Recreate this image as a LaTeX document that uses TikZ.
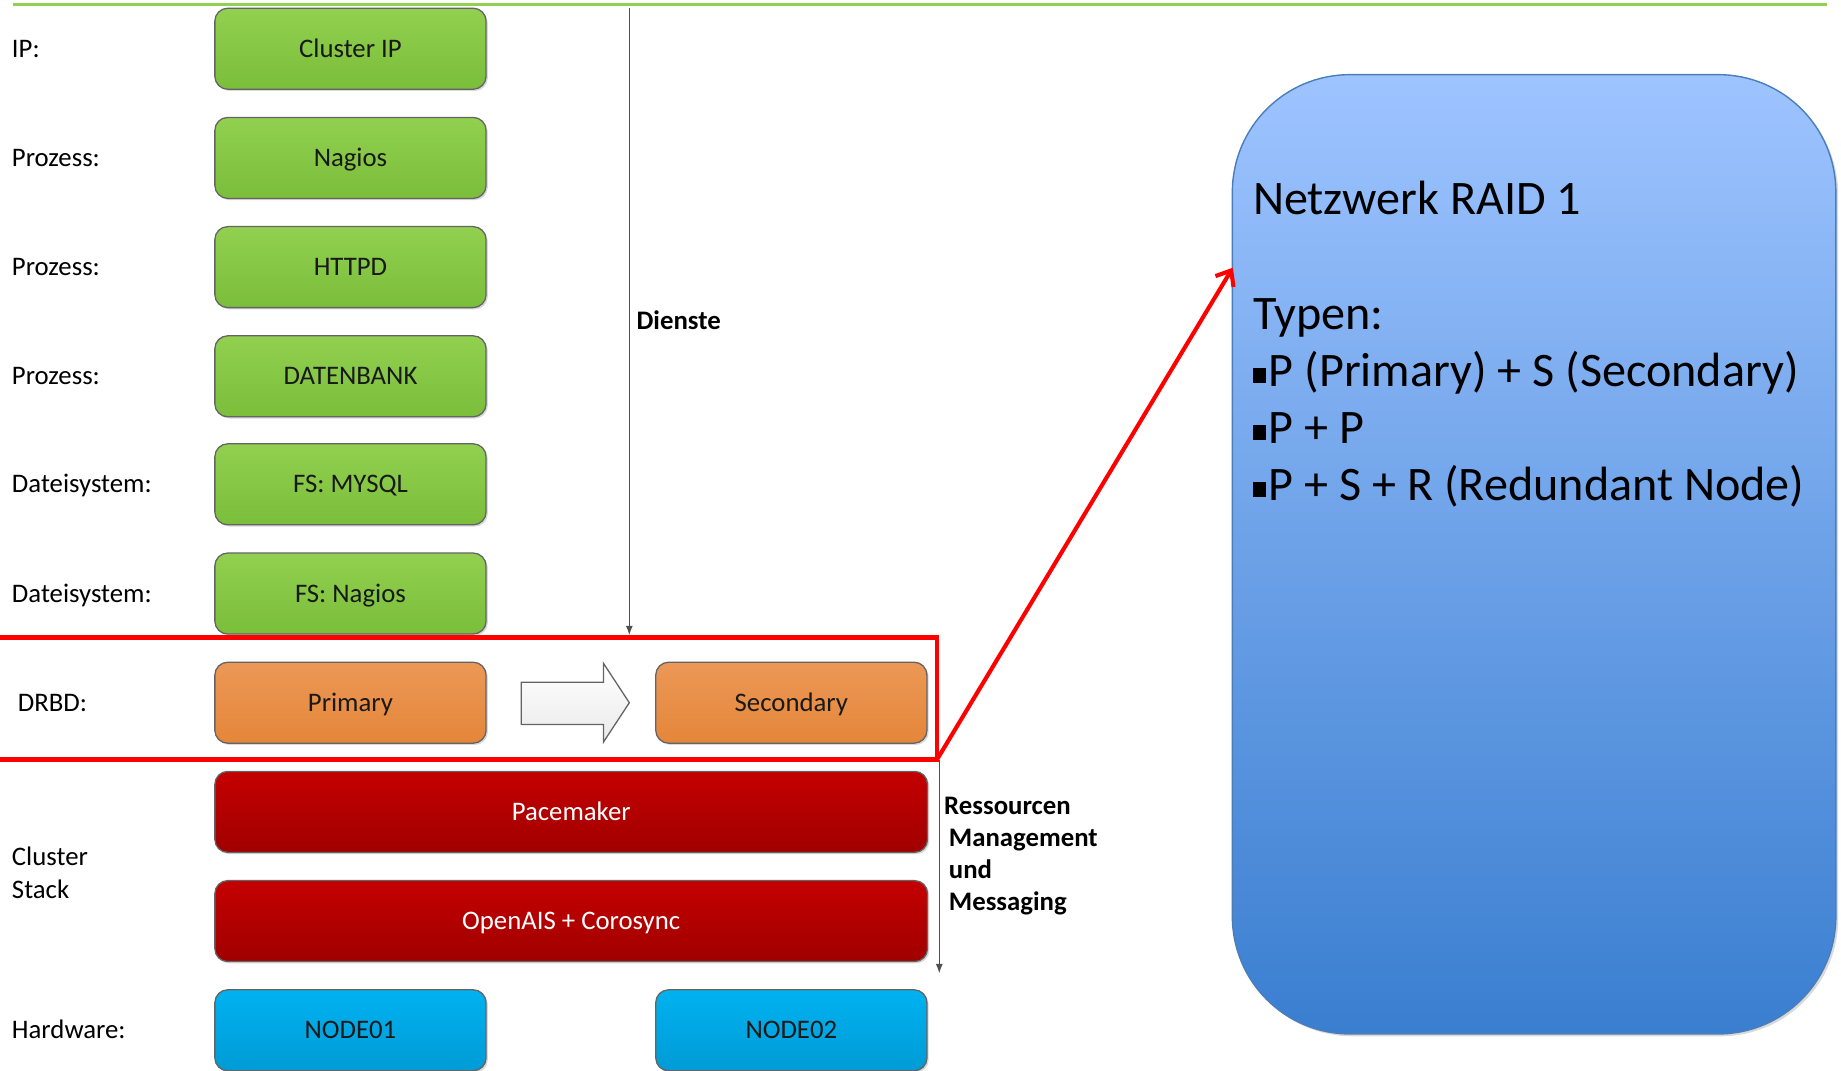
\documentclass[tikz,border=0pt]{standalone}
\usepackage{fontspec}
\setmainfont{Carlito}
\usetikzlibrary{arrows.meta,shadows}
\definecolor{gtop}{RGB}{146,208,80}
\definecolor{gbot}{RGB}{122,190,58}
\definecolor{otop}{RGB}{236,152,86}
\definecolor{obot}{RGB}{228,134,58}
\definecolor{rtop}{RGB}{196,0,0}
\definecolor{rbot}{RGB}{160,0,0}
\definecolor{btop}{RGB}{0,178,240}
\definecolor{bbot}{RGB}{0,155,214}
\definecolor{raidtop}{RGB}{158,196,255}
\definecolor{raidbot}{RGB}{58,126,208}
\definecolor{raiddraw}{RGB}{74,126,187}
\definecolor{redln}{RGB}{255,0,0}
\definecolor{grayln}{RGB}{80,80,80}
\definecolor{boxborder}{RGB}{100,100,100}
\definecolor{topln}{RGB}{146,208,80}
\newcommand\lblfont{\fontsize{22.8}{27}\selectfont}
\newcommand\bigtxt{\fontsize{41}{48}\selectfont}
\newcommand\bul{\rule[0.07em]{0.27em}{0.3em}\hspace{0.06em}}
\tikzset{
  basebox/.style={draw=boxborder, line width=1.1pt, rounded corners=11pt,
    minimum height=69pt, text height=14.6pt, text depth=0pt, inner sep=0pt,
    font=\lblfont, text={rgb,255:red,25;green,25;blue,25},
    drop shadow={opacity=0.3, shadow xshift=1.5pt, shadow yshift=-1.5pt}},
  sbox/.style={basebox, minimum width=231pt},
  wbox/.style={basebox, minimum width=607pt},
  gbox/.style={sbox, top color=gtop, bottom color=gbot},
  obox/.style={sbox, top color=otop, bottom color=obot},
  rbox/.style={wbox, top color=rtop, bottom color=rbot, text=white},
  bbox/.style={sbox, top color=btop, bottom color=bbot},
  lbl/.style={anchor=west, inner sep=0pt, font=\lblfont, text height=14.6pt, text depth=0pt},
  boldlbl/.style={inner sep=0pt, font=\lblfont\bfseries, align=left},
  garrow/.style={draw=grayln, line width=1.1pt, -{Latex[length=8pt,width=6pt]}},
  redbox/.style={draw=redln, line width=4pt},
  redarrow/.style={draw=redln, line width=3.5pt, -{Straight Barb[length=11pt,width=18pt,line width=3.5pt]}},
  raidbox/.style={draw=raiddraw, line width=1.2pt, rounded corners=100pt,
    top color=raidtop, bottom color=raidbot, anchor=north west, inner sep=0pt,
    minimum width=514pt, minimum height=817pt,
    drop shadow={opacity=0.3, shadow xshift=2pt, shadow yshift=-2pt}},
  raidtxt/.style={anchor=base west, inner sep=0pt, font=\bigtxt}
}
\begin{document}
\begin{tikzpicture}[x=1pt,y=-1pt]
\useasboundingbox (0,0) rectangle (1568,912);
% top green line
\coordinate (tl1) at (11,4);
\coordinate (tl2) at (1556,4);
\draw[topln, line width=2.5pt] (tl1) -- (tl2);

% left labels
\node[lbl] (lip) at (10,41.5) {IP:};
\node[lbl] (lp1) at (10,134.5) {Prozess:};
\node[lbl] (lp2) at (10,227.5) {Prozess:};
\node[lbl] (lp3) at (10,320.5) {Prozess:};
\node[lbl] (ld1) at (10,412.5) {Dateisystem:};
\node[lbl] (ld2) at (10,505.5) {Dateisystem:};
\node[lbl] (ldr) at (15,598.5) {DRBD:};
\node[anchor=west, inner sep=0pt, font=\fontsize{22.8}{28}\selectfont, align=left] (lcs) at (10,743) {Cluster\\Stack};
\node[lbl] (lhw) at (10,877.5) {Hardware:};

% green service boxes
\node[gbox] (ip) at (298.5,41.5) {Cluster IP};
\node[gbox] (nag) at (298.5,134.5) {Nagios};
\node[gbox] (http) at (298.5,227.5) {HTTPD};
\node[gbox] (db) at (298.5,320.5) {DATENBANK};
\node[gbox] (fsm) at (298.5,412.5) {FS: MYSQL};
\node[gbox] (fsn) at (298.5,505.5) {FS: Nagios};

% DRBD row
\node[obox] (prim) at (298.5,598.5) {Primary};
\node[obox] (sec) at (674,598.5) {Secondary};
\draw[draw=boxborder, line width=1.1pt, top color=white, bottom color={rgb,255:red,234;green,234;blue,234}]
  (444,581) -- (514,581) -- (514,565) -- (536,598.5) -- (514,632) -- (514,617) -- (444,617) -- cycle;

% cluster stack
\node[rbox] (pace) at (486.5,691.5) {Pacemaker};
\node[rbox] (ais) at (486.5,784.5) {OpenAIS + Corosync};

% hardware
\node[bbox] (n1) at (298.5,877.5) {NODE01};
\node[bbox] (n2) at (674,877.5) {NODE02};

% Dienste arrow
\coordinate (ds) at (536,7);
\coordinate (de) at (536,541);
\draw[garrow] (ds) -- (de);
\node[boldlbl, anchor=west, text height=14.6pt, text depth=0pt] (dien) at (542,273) {Dienste};

% Ressourcen arrow
\coordinate (rs) at (800,647);
\coordinate (re) at (800,829);
\draw[garrow] (rs) -- (re);
\node[boldlbl, anchor=north west, font=\fontsize{22.8}{27.3}\selectfont\bfseries] (res) at (804,679)
  {Ressourcen\\\hspace*{4pt}Management\\\hspace*{4pt}und\\\hspace*{4pt}Messaging};

% blue RAID box
\node[raidbox] (raid) at (1049,63) {};
\node[raidtxt] (rt1) at (1067,183) {Netzwerk RAID 1};
\node[raidtxt] (rt2) at (1067,281) {Typen:};
\node[raidtxt] (rt3) at (1067,329) {\bul P (Primary) + S (Secondary)};
\node[raidtxt] (rt4) at (1067,377.5) {\bul P + P};
\node[raidtxt] (rt5) at (1067,426) {\bul P + S + R (Redundant Node)};

% red highlight
\coordinate (rtl) at (-10,543);
\coordinate (rbr) at (798,647);
\draw[redbox] (rtl) rectangle (rbr);
\coordinate (rtip) at (1050,228);
\draw[redarrow] (rbr) -- (rtip);
\end{tikzpicture}
\end{document}
